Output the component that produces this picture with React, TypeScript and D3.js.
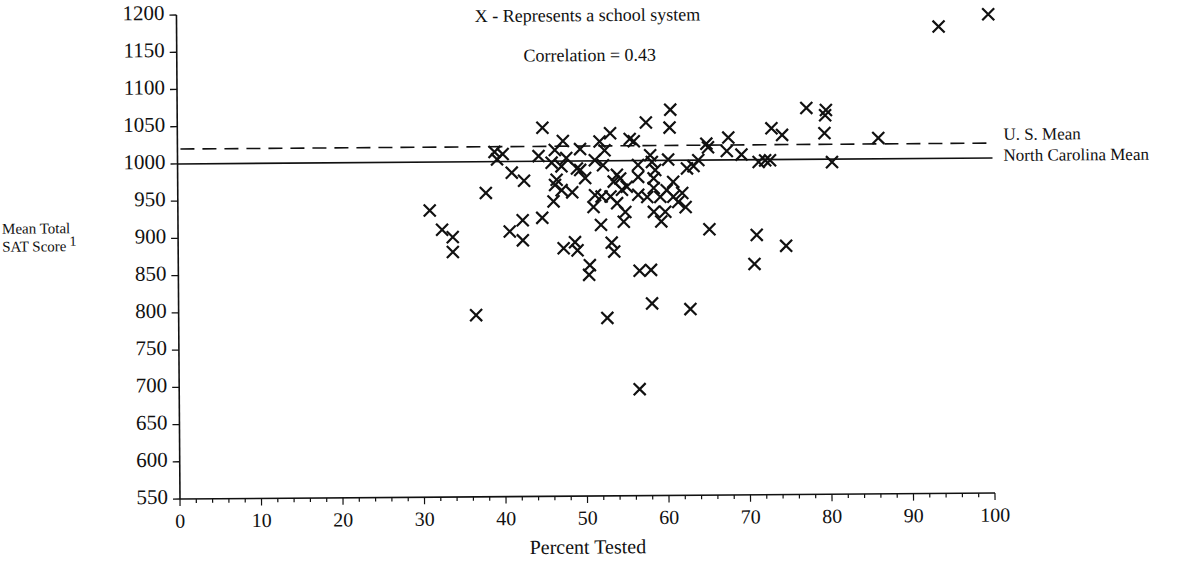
import React from "react";
import * as d3 from "d3";

// school systems: percent tested vs mean total SAT score
const percentTested = [
  44.8, 47.3, 38.9, 39.9, 39.2, 44.3, 46.3, 45.9, 47.1, 47.7, 49.0, 41.0, 42.5,
  46.5, 46.3, 47.1, 48.4, 46.1, 37.8, 30.9, 32.4, 33.7, 33.7, 42.3, 44.7, 40.7,
  42.3, 47.3, 48.7, 49.0, 36.5, 51.9, 54.7, 59.3, 65.2, 71.0, 50.5, 50.4, 53.2,
  53.5, 56.6, 58.0, 58.1, 62.8, 52.6, 70.7, 56.5, 74.6, 99.6, 93.5, 77.2, 79.6,
  79.5, 72.9, 74.2, 79.4, 86.0, 69.2, 71.3, 72.1, 72.7, 80.3, 60.5, 57.5, 60.4,
  53.1, 51.8, 55.5, 56.0, 67.6, 64.9, 65.1, 67.4, 49.4, 52.4, 51.2, 52.2, 58.0,
  58.2, 60.2, 62.5, 63.3, 63.9, 56.5, 49.4, 50.0, 53.9, 54.3, 53.5, 56.5, 58.6,
  60.8, 58.4, 51.2, 52.0, 53.1, 54.5, 55.1, 56.5, 57.6, 58.4, 59.2, 60.0, 60.8,
  61.9, 61.4, 51.0, 53.9, 54.9, 58.4, 59.8, 62.3,
];
const satScore = [
  1045, 1027, 1013, 1010, 1003, 1007, 1015, 998, 993, 1004, 990, 985, 974,
  975, 968, 961, 958, 946, 958, 935, 909, 899, 879, 921, 924, 906,
  894, 883, 891, 880, 794, 914, 918, 918, 907, 899, 860, 847, 890,
  878, 852, 853, 808, 800, 789, 860, 693, 884, 1193, 1177, 1069, 1066,
  1059, 1042, 1033, 1035, 1028, 1007, 997, 999, 999, 996, 1068, 1051, 1044,
  1037, 1026, 1029, 1026, 1030, 1022, 1017, 1012, 1016, 1014, 1001, 994, 1007,
  998, 1001, 989, 992, 1000, 994, 988, 977, 981, 976, 972, 978, 987,
  971, 976, 954, 952, 952, 961, 965, 954, 951, 963, 951, 960, 951,
  956, 944, 938, 943, 931, 931, 931, 937,
];

const usMean = 1020;
const ncMean = 1000;
const yTicks = d3.range(550, 1201, 50);
const xTicks = d3.range(0, 101, 10);
const xMinor = d3.range(0, 101, 2);

const serif = "'Liberation Serif', 'Times New Roman', serif";

export default function App() {
  const x = d3.scaleLinear().domain([0, 100]).range([180, 995]);
  const y = d3.scaleLinear().domain([550, 1200]).range([499, 15]);
  const points = percentTested.map((p, i) => ({ p, s: satScore[i] }));

  return (
    <svg
      width={1182}
      height={573}
      style={{ position: "absolute", left: 0, top: 0, background: "#fff" }}
    >
      <rect width={1182} height={573} fill="#fff" />
      {/* the scanned original is tilted a little */}
      <g transform="rotate(-0.42 180 499)" fill="#111" stroke="none">
        <text x={591} y={20} fontFamily={serif} fontSize={18} textAnchor="middle" dominantBaseline="middle">
          X - Represents a school system
        </text>
        <text x={593} y={60} fontFamily={serif} fontSize={18} textAnchor="middle" dominantBaseline="middle">
          Correlation = 0.43
        </text>

        {/* y axis */}
        <line x1={x(0)} x2={x(0)} y1={y(1200)} y2={y(550)} stroke="#111" strokeWidth={1.6} />
        {yTicks.map((t) => (
          <g key={t}>
            <line x1={x(0) - 7} x2={x(0)} y1={y(t)} y2={y(t)} stroke="#111" strokeWidth={1.3} />
            <text x={x(0) - 12} y={y(t)} fontFamily={serif} fontSize={21} textAnchor="end" dominantBaseline="middle">
              {t}
            </text>
          </g>
        ))}

        {/* x axis */}
        <line x1={x(0)} x2={x(100)} y1={y(550)} y2={y(550)} stroke="#111" strokeWidth={1.6} />
        {xMinor.map((t) => (
          <line key={"m" + t} x1={x(t)} x2={x(t)} y1={y(550)} y2={y(550) + (t % 10 === 0 ? 7 : 4)} stroke="#111" strokeWidth={1.2} />
        ))}
        {xTicks.map((t) => (
          <text key={t} x={x(t)} y={y(550) + 24} fontFamily={serif} fontSize={20} textAnchor="middle" dominantBaseline="middle">
            {t}
          </text>
        ))}
        <text x={x(50)} y={y(550) + 53} fontFamily={serif} fontSize={20} textAnchor="middle" dominantBaseline="middle">
          Percent Tested
        </text>

        <text x={4} y={229} fontFamily={serif} fontSize={15} dominantBaseline="middle">
          Mean Total
        </text>
        <text x={4} y={247} fontFamily={serif} fontSize={15} dominantBaseline="middle">
          SAT Score
          <tspan dx={3} dy={-5} fontSize={14}>1</tspan>
        </text>

        {/* reference lines */}
        <line x1={x(0) + 3} x2={x(100)} y1={y(usMean)} y2={y(usMean)} stroke="#111" strokeWidth={1.6} strokeDasharray="14,8" />
        <line x1={x(0)} x2={x(100)} y1={y(ncMean)} y2={y(ncMean)} stroke="#111" strokeWidth={1.6} />
        <text x={1006} y={142} fontFamily={serif} fontSize={17} dominantBaseline="middle">
          U. S. Mean
        </text>
        <text x={1006} y={163} fontFamily={serif} fontSize={17} dominantBaseline="middle">
          North Carolina Mean
        </text>

        {/* school systems */}
        {points.map((d, i) => (
          <path
            key={i}
            transform={`translate(${x(d.p)},${y(d.s)})`}
            d="M-6,-6L6,6M-6,6L6,-6"
            stroke="#111"
            strokeWidth={2.2}
            fill="none"
          />
        ))}
      </g>
    </svg>
  );
}
